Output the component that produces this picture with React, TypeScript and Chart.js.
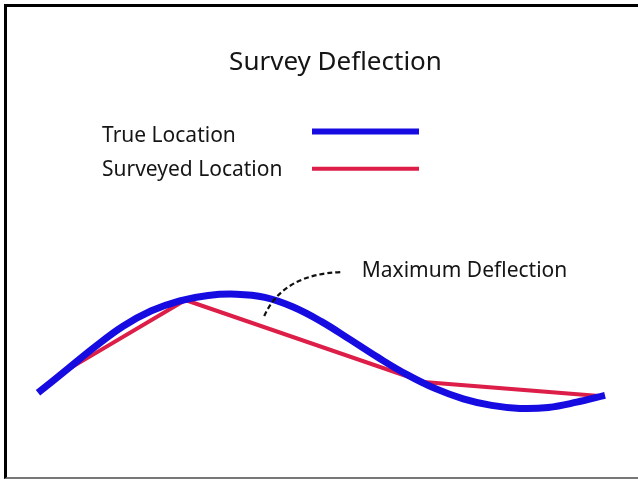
import React, { useEffect, useRef } from "react";
import { Chart, registerables } from "chart.js";

Chart.register(...registerables);

// Along-hole stations (arbitrary distance units) and lateral offset of the true path
const stations = [0, 5, 10, 15, 20, 25, 30, 35, 40, 45, 50, 55, 60, 65, 70, 75, 80, 85, 90, 95, 100];
const trueOffset = [8.6, 20, 31.5, 41.9, 49.6, 54.6, 57.3, 57.9, 56.3, 51.5, 44.2, 35.3, 26.2, 17.8, 10.8, 5.6, 2.3, 0.8, 1.3, 3.9, 7.3];

// Survey stations (straight segments between them)
const surveyStations = [5, 26, 68, 99];
const surveyOffset = [19.8, 55, 14, 7];

const titleText = "Survey Deflection";
const seriesLabels = ["True Location", "Surveyed Location"];
const seriesColors = ["rgb(22,12,226)", "rgb(220,30,72)"];
const annotationText = "Maximum Deflection";
// annotation anchor points (data units): arrow start, control, end, label
const arrowFrom = { x: 39.9, y: 47 };
const arrowCtrl = { x: 43.2, y: 68 };
const arrowTo = { x: 53.6, y: 69 };
const labelAt = { x: 57.1, y: 66.3 };

const FONT = '"Noto Sans", "Open Sans", sans-serif';

const overlayPlugin = {
  id: "overlay",
  afterDatasetsDraw(chart: any) {
    const ctx = chart.ctx as CanvasRenderingContext2D;
    const xs = chart.scales.x;
    const ys = chart.scales.y;
    ctx.save();
    ctx.fillStyle = "#151515";
    ctx.textBaseline = "alphabetic";

    // title
    ctx.font = `26px ${FONT}`;
    ctx.textAlign = "center";
    ctx.fillText(titleText, 335.5, 69.5);

    // legend
    ctx.font = `21px ${FONT}`;
    ctx.textAlign = "left";
    const rows = [
      { y: 141.5, ly: 131.5, w: 6 },
      { y: 176, ly: 168.7, w: 4 },
    ];
    rows.forEach((r, i) => {
      ctx.fillStyle = "#151515";
      ctx.fillText(seriesLabels[i], 102, r.y);
      ctx.strokeStyle = seriesColors[i];
      ctx.lineWidth = r.w;
      ctx.lineCap = "butt";
      ctx.beginPath();
      ctx.moveTo(312, r.ly);
      ctx.lineTo(419, r.ly);
      ctx.stroke();
    });

    // annotation
    const px = (p: { x: number; y: number }) => [xs.getPixelForValue(p.x), ys.getPixelForValue(p.y)];
    const [ax, ay] = px(arrowFrom);
    const [cx, cy] = px(arrowCtrl);
    const [bx, by] = px(arrowTo);
    ctx.strokeStyle = "#111";
    ctx.lineWidth = 2.2;
    ctx.setLineDash([5, 3]);
    ctx.beginPath();
    ctx.moveTo(ax, ay);
    ctx.quadraticCurveTo(cx, cy, bx, by);
    ctx.stroke();
    ctx.setLineDash([]);
    const [tx, ty] = px(labelAt);
    ctx.fillStyle = "#151515";
    ctx.fillText(annotationText, tx, ty);
    ctx.restore();
  },
};

export default function App() {
  const ref = useRef<HTMLCanvasElement>(null);
  useEffect(() => {
    if (!ref.current) return;
    const chart = new Chart(ref.current, {
      type: "line",
      data: {
        datasets: [
          {
            label: seriesLabels[0],
            data: stations.map((s, i) => ({ x: s, y: trueOffset[i] })),
            borderColor: seriesColors[0],
            borderWidth: 7,
            pointRadius: 0,
            tension: 0.4,
            fill: false,
          },
          {
            label: seriesLabels[1],
            data: surveyStations.map((s, i) => ({ x: s, y: surveyOffset[i] })),
            borderColor: seriesColors[1],
            borderWidth: 4,
            pointRadius: 0,
            tension: 0,
            fill: false,
          },
        ],
      },
      options: {
        responsive: false,
        animation: false,
        devicePixelRatio: 1,
        layout: { padding: 0, autoPadding: false },
        plugins: { legend: { display: false }, title: { display: false }, tooltip: { enabled: false } },
        scales: {
          x: { type: "linear", display: false, min: -6.7, max: 105.82 },
          y: { type: "linear", display: false, min: -34.5, max: 205 },
        },
      },
      plugins: [overlayPlugin],
    } as any);
    if ((document as any).fonts && (document as any).fonts.load) {
      (document as any).fonts.load(`21px ${FONT}`).then(() => chart.update()).catch(() => {});
    }
    return () => chart.destroy();
  }, []);

  return (
    <div style={{ position: "fixed", left: 0, top: 0, width: 638, height: 479, overflow: "hidden", background: "#fff" }}>
      <div
        style={{
          position: "absolute",
          left: 4,
          top: 4,
          width: 700,
          height: 475,
          boxSizing: "border-box",
          borderLeft: "3px solid #000",
          borderTop: "3px solid #000",
          borderBottom: "2px solid #777",
        }}
      />
      <canvas ref={ref} width={638} height={479} style={{ position: "absolute", left: 0, top: 0 }} />
    </div>
  );
}
